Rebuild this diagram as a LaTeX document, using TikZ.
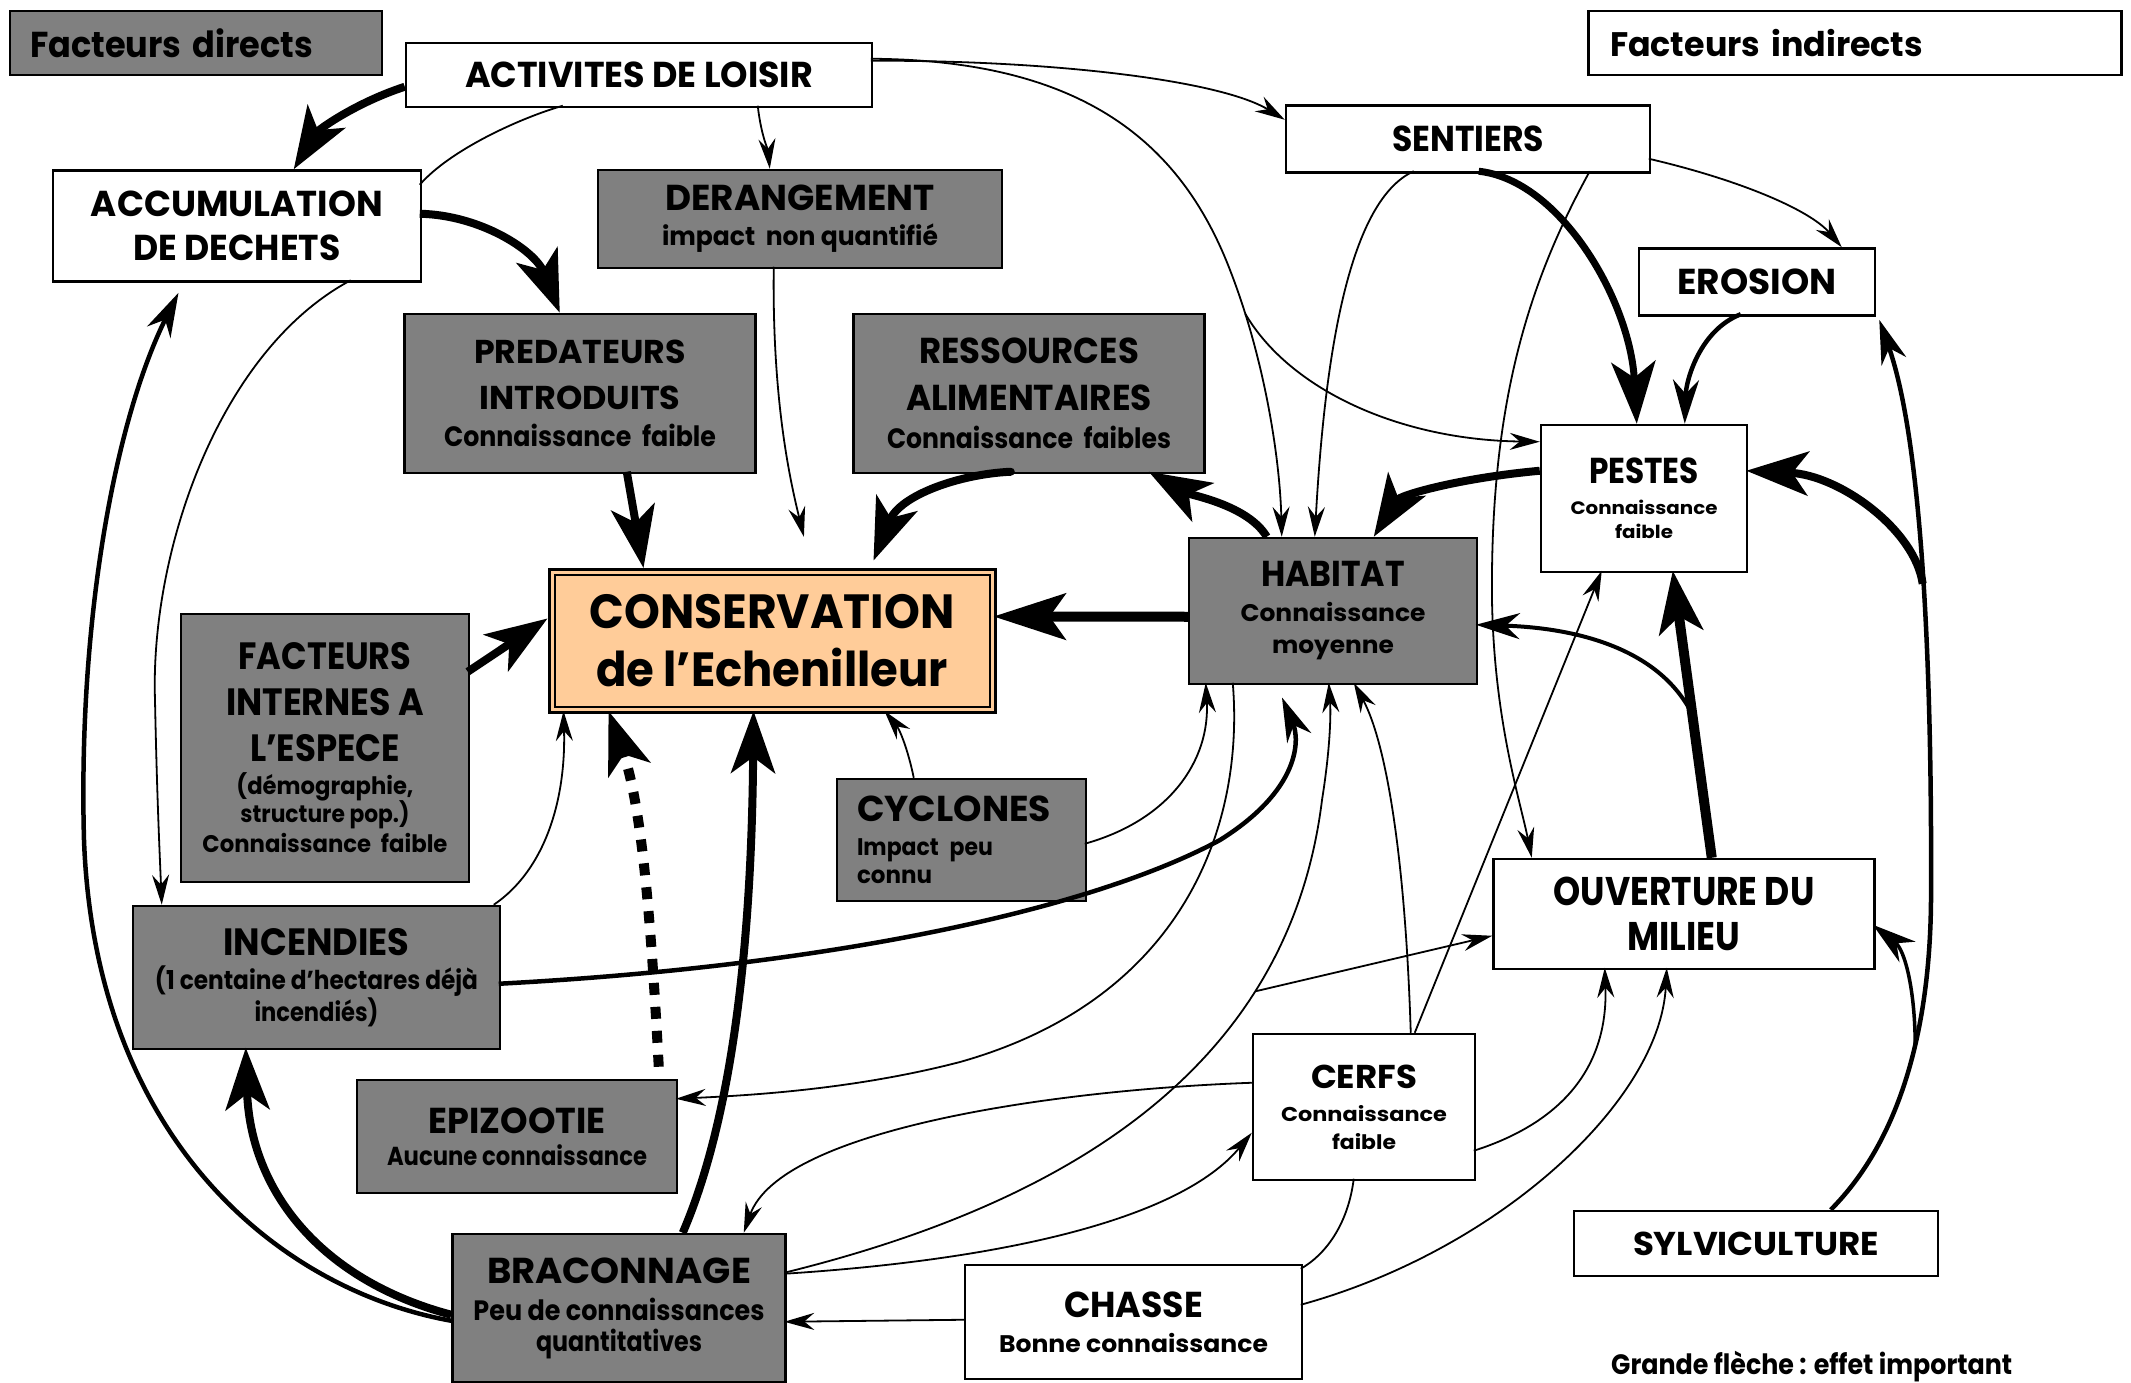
\documentclass[tikz,border=0pt]{standalone}
\usepackage{fontspec}
\setmainfont{Poppins}
\usepackage{graphicx}
\usetikzlibrary{arrows.meta,calc}
\newcommand\fitw[2]{\resizebox{#1pt}{\height}{#2}}
\newcommand\fsz[2]{\fontsize{#1}{#2}\selectfont}
\definecolor{boxgray}{HTML}{808080}
\definecolor{consor}{HTML}{FFCC99}
\tikzset{
  bx/.style={draw=black, line width=2.5pt, inner sep=0pt, align=center},
  gbx/.style={bx, fill=boxgray},
  wbx/.style={bx, fill=white},
  thn/.style={line width=1.8pt, -{Stealth[length=30pt,width=17pt,inset=10pt]}},
  plainln/.style={line width=1.8pt},
  medm/.style={line width=4.5pt, -{Stealth[length=44pt,width=26pt,inset=14pt]}},
  thk/.style={line width=8pt, -{Stealth[length=62pt,width=44pt,inset=16pt]}},
}
\begin{document}
\begin{tikzpicture}[x=1pt,y=-1pt]
\fill[white] (0,0) rectangle (2131,1383);
\useasboundingbox (0,0) rectangle (2131,1383);

% ---------- nodes ----------
\node[gbx, minimum width=372pt, minimum height=64pt, text width=332pt, align=left, font=\fsz{36}{36}\bfseries] (fdir) at (196,43) {\fitw{283}{Facteurs directs}};
\node[wbx, minimum width=533pt, minimum height=64pt, text width=490pt, align=left, font=\fsz{34}{34}\bfseries] (find) at (1855,43) {\fitw{313}{Facteurs indirects}};
\node[wbx, minimum width=466pt, minimum height=64pt, font=\fsz{36}{36}\bfseries] (act) at (639,75) {\fitw{348}{ACTIVITES DE LOISIR}};
\node[wbx, minimum width=364pt, minimum height=67pt, font=\fsz{36}{36}\bfseries] (sent) at (1468,139) {\fitw{152}{SENTIERS}};
\node[wbx, minimum width=368pt, minimum height=111pt, font=\fsz{36}{44}\bfseries] (acc) at (237,226) {\fitw{292}{ACCUMULATION}\\\fitw{207}{DE DECHETS}};
\node[gbx, minimum width=404pt, minimum height=98pt, font=\fsz{36}{35}\bfseries] (der) at (800,219) {\fitw{269}{DERANGEMENT}\\{\fsz{26}{26}\fitw{276}{impact~~non quantifié}}};
\node[wbx, minimum width=236pt, minimum height=67pt, font=\fsz{36}{36}\bfseries] (ero) at (1757,282) {\fitw{159}{EROSION}};
\node[gbx, minimum width=351pt, minimum height=159pt, font=\fsz{33}{46}\bfseries] (pred) at (580,393.5) {\fitw{212}{PREDATEURS}\\\fitw{201}{INTRODUITS}\\[-9pt]{\fsz{28}{28}\fitw{272}{Connaissance~~faible}}};
\node[gbx, minimum width=351pt, minimum height=159pt, font=\fsz{36}{47}\bfseries] (ress) at (1029,393.5) {\fitw{220}{RESSOURCES}\\\fitw{246}{ALIMENTAIRES}\\[-9pt]{\fsz{28}{28}\fitw{284}{Connaissance~~faibles}}};
\node[wbx, minimum width=206pt, minimum height=147pt, font=\fsz{36}{24}\bfseries] (pest) at (1644,498.5) {\fitw{110}{PESTES}\\[7pt]{\fsz{18}{18}\fitw{147}{Connaissance}}\\{\fsz{18}{18}\fitw{58}{faible}}};
\node[gbx, minimum width=288pt, minimum height=146pt, font=\fsz{36}{32}\bfseries] (hab) at (1333,611) {\fitw{144}{HABITAT}\\[3pt]{\fsz{24}{24}\fitw{185}{Connaissance}}\\{\fsz{24}{24}\fitw{122}{moyenne}}};
\node[bx, fill=consor, line width=3pt, minimum width=446pt, minimum height=143pt, font=\fsz{48}{58}\bfseries] (cons) at (772,641) {\fitw{365}{CONSERVATION}\\\fitw{352}{de l’Echenilleur}};
\draw[line width=2pt] ($(cons.north west)+(7,7)$) rectangle ($(cons.south east)+(-7,-7)$);
\node[gbx, minimum width=288pt, minimum height=268pt, font=\fsz{38}{46}\bfseries] (fint) at (325,748) {\fitw{173}{FACTEURS}\\\fitw{198}{INTERNES A}\\\fitw{150}{L’ESPECE}\\[-13pt]{\fsz{24}{24}\fitw{177}{(démographie,}}\\[-18pt]{\fsz{24}{24}\fitw{169}{structure pop.)}}\\[-16pt]{\fsz{24}{24}\fitw{245}{Connaissance~~faible}}};
\node[gbx, minimum width=249pt, minimum height=122pt, text width=209pt, align=left, font=\fsz{36}{28}\bfseries] (cyc) at (961.5,840) {\fitw{194}{CYCLONES}\\[6pt]{\fsz{24}{24}\fitw{136}{Impact peu}}\\{\fsz{24}{24}\fitw{75}{connu}}};
\node[wbx, minimum width=381pt, minimum height=110pt, font=\fsz{40}{45}\bfseries] (ouv) at (1684,914) {\fitw{261}{OUVERTURE DU}\\\fitw{113}{MILIEU}};
\node[gbx, minimum width=367pt, minimum height=143pt, font=\fsz{38}{27}\bfseries] (inc) at (316.5,977.5) {\fitw{186}{INCENDIES}\\[7pt]{\fsz{26}{26}\fitw{323}{(1 centaine d’hectares déjà}}\\{\fsz{26}{26}\fitw{124}{incendiés)}}};
\node[wbx, minimum width=222pt, minimum height=146pt, font=\fsz{33}{28}\bfseries] (cerf) at (1364,1107) {\fitw{106}{CERFS}\\[5pt]{\fsz{20}{20}\fitw{166}{Connaissance}}\\{\fsz{20}{20}\fitw{64}{faible}}};
\node[gbx, minimum width=320pt, minimum height=113pt, font=\fsz{36}{32}\bfseries] (epi) at (517,1136.5) {\fitw{177}{EPIZOOTIE}\\{\fsz{26}{26}\fitw{260}{Aucune connaissance}}};
\node[wbx, minimum width=364pt, minimum height=65pt, font=\fsz{33}{33}\bfseries] (sylv) at (1756,1243.5) {\fitw{246}{SYLVICULTURE}};
\node[gbx, minimum width=333pt, minimum height=148pt, font=\fsz{36}{31}\bfseries] (brac) at (619,1308) {\fitw{264}{BRACONNAGE}\\[6pt]{\fsz{28}{28}\fitw{291}{Peu de connaissances}}\\{\fsz{28}{28}\fitw{166}{quantitatives}}};
\node[wbx, minimum width=337pt, minimum height=114pt, font=\fsz{36}{35}\bfseries] (chas) at (1133.5,1322) {\fitw{139}{CHASSE}\\{\fsz{24}{24}\fitw{269}{Bonne connaissance}}};
\node[anchor=base west, inner sep=0pt, font=\fsz{28}{28}\bfseries] (note) at (1611,1374) {\fitw{401}{Grande flèche : effet important}};

% ---------- connectors ----------
\draw[thk] ($(act.north west)+(0,45)$) .. controls (355,103) and (318,130) .. ($(acc.north west)+(242,0)$);
\draw[plainln] ($(act.north west)+(158,64)$) .. controls (520,118) and (450,150) .. ($(acc.north west)+(368,15.5)$);
\draw[thn] ($(act.north west)+(353,64)$) .. controls (761,135) and (768,150) .. ($(der.north west)+(173,0)$);
\draw[thn] ($(act.north west)+(466,19)$) .. controls (1050,60) and (1220,80) .. ($(sent.north west)+(0,15.5)$);
\draw[thn] ($(act.north west)+(466,17)$) .. controls (1080,60) and (1180,140) .. (1230,270) .. controls (1265,360) and (1280,460) .. ($(hab.north west)+(94,0)$) coordinate[pos=0.16] (br1);
\draw[thn] (br1) .. controls (1290,390) and (1400,440) .. ($(pest.north west)+(0,18)$);
\draw[thn] ($(sent.north west)+(129,67)$) .. controls (1350,200) and (1325,350) .. ($(hab.north west)+(127,0)$);
\draw[thk, line width=7pt] ($(sent.north west)+(194,67)$) .. controls (1560,180) and (1630,300) .. ($(pest.north west)+(97,0)$);
\draw[thn] ($(sent.north west)+(305,67)$) .. controls (1530,280) and (1490,400) .. (1492,600) .. controls (1494,720) and (1520,800) .. ($(ouv.north west)+(39.5,0)$);
\draw[thn] ($(sent.north west)+(364,54.5)$) .. controls (1740,180) and (1810,210) .. ($(ero.north west)+(204,0)$);
\draw[medm] ($(ero.north west)+(103,67)$) .. controls (1700,330) and (1686,380) .. ($(pest.north west)+(145,0)$);
\draw[thk] ($(pest.north west)+(0,47)$) .. controls (1460,478) and (1400,495) .. ($(hab.north west)+(186,0)$);
\draw[thk] ($(hab.north west)+(79,0)$) .. controls (1248,505) and (1190,495) .. ($(ress.north west)+(296.5,159)$);
\draw[thk, line cap=round, shorten >=8pt] ($(ress.north west)+(158.5,159)$) .. controls (960,474) and (900,495) .. ($(cons.north west)+(323,0)$);
\draw[thk] ($(pred.north west)+(223.5,159)$) -- ($(cons.north west)+(96,0)$);
\draw[thn, shorten >=32pt] ($(der.north west)+(177,98)$) .. controls (772,400) and (790,480) .. ($(cons.north west)+(264,0)$);
\draw[thk] ($(acc.north west)+(368,44.5)$) .. controls (480,215) and (535,250) .. ($(pred.north west)+(156.5,0)$);
\draw[thn] ($(acc.north west)+(299,111)$) .. controls (220,350) and (150,550) .. (155,700) .. controls (157,800) and (160,860) .. ($(inc.north west)+(30,0)$);
\draw[medm, shorten >=14pt] ($(brac.north west)+(0,88)$) .. controls (280,1290) and (95,1140) .. (84,840) .. controls (78,620) and (115,420) .. ($(acc.north west)+(133,111)$);
\draw[thk] ($(brac.north west)+(0,82)$) .. controls (320,1280) and (250,1190) .. ($(inc.north west)+(114,143)$);
\draw[thk] ($(fint.north west)+(288,59)$) -- ($(cons.north west)+(0,50.5)$);
\draw[thn] ($(inc.north west)+(362,0)$) .. controls (545,870) and (566,800) .. ($(cons.north west)+(16,143)$);
\draw[medm, shorten >=16pt] ($(inc.north west)+(367,79)$) .. controls (850,965) and (1100,905) .. (1220,840) .. controls (1300,790) and (1300,740) .. ($(hab.north west)+(88,146)$);
\draw[thk, line width=10pt, dash pattern=on 12pt off 12pt] ($(epi.north west)+(303,-12)$) .. controls (650,900) and (640,800) .. ($(cons.north west)+(61,143)$);
\draw[thk] ($(brac.north west)+(231.5,0)$) .. controls (740,1100) and (752,900) .. ($(cons.north west)+(206,143)$);
\draw[thn] ($(cyc.north west)+(78,0)$) .. controls (908,750) and (900,730) .. ($(cons.north west)+(337,143)$);
\draw[thk, line width=10pt, -{Stealth[length=72pt,width=46pt,inset=16pt]}] ($(hab.north west)+(0,80)$) -- ($(cons.north west)+(446,48.5)$);
\draw[thn] ($(cyc.north west)+(249,66)$) .. controls (1170,820) and (1210,760) .. ($(hab.north west)+(18,146)$);
\draw[thn] ($(hab.north west)+(45,146)$) .. controls (1245,830) and (1180,1000) .. (960,1062) .. controls (860,1088) and (760,1095) .. ($(epi.north west)+(320,20)$);
\draw[thn] ($(brac.north west)+(333,40)$) .. controls (1080,1200) and (1290,1060) .. (1322,800) coordinate[pos=0.72] (br2) .. controls (1330,750) and (1331,715) .. ($(hab.north west)+(141,146)$);
\draw[thn] (br2) -- ($(ouv.north west)+(0,78)$);
\draw[thn] ($(cerf.north west)+(159,0)$) .. controls (1405,850) and (1385,740) .. ($(hab.north west)+(166,146)$);
\draw[thn] ($(cerf.north west)+(163,0)$) -- ($(pest.north west)+(62,147)$);
\draw[thn] ($(cerf.north west)+(0,50)$) .. controls (1050,1090) and (780,1130) .. ($(brac.north west)+(292.5,0)$);
\draw[thn] ($(brac.north west)+(333,41)$) .. controls (1000,1260) and (1180,1220) .. ($(cerf.north west)+(0,100)$);
\draw[thn] ($(chas.north west)+(0,56)$) -- ($(brac.north west)+(333,89)$);
\draw[plainln] ($(cerf.north west)+(102,146)$) .. controls (1348,1225) and (1325,1255) .. ($(chas.north west)+(337,5)$);
\draw[thn] ($(chas.north west)+(337,41)$) .. controls (1500,1250) and (1660,1100) .. ($(ouv.north west)+(174.5,110)$);
\draw[thn] ($(cerf.north west)+(222,118)$) .. controls (1570,1120) and (1608,1060) .. ($(ouv.north west)+(112.5,110)$);
\draw[thk, line width=10pt] ($(ouv.north west)+(219.5,0)$) -- ($(pest.north west)+(133,147)$) coordinate[pos=0.5] (br3);
\draw[medm, line width=4pt] (br3) .. controls (1660,650) and (1580,628) .. ($(hab.north west)+(288,88)$);
\draw[medm] ($(sylv.north west)+(258,0)$) .. controls (1900,1140) and (1930,1030) .. (1931,900) coordinate[pos=0.6] (br5) .. controls (1932,700) and (1925,450) .. ($(ero.south east)+(3,3)$) coordinate[pos=0.5] (br4);
\draw[thk] (br4) .. controls (1915,530) and (1840,475) .. ($(pest.north west)+(206.5,47)$);
\draw[medm, line width=3.5pt] (br5) .. controls (1915,990) and (1905,950) .. ($(ouv.north west)+(380.5,67)$);
\end{tikzpicture}
\end{document}
